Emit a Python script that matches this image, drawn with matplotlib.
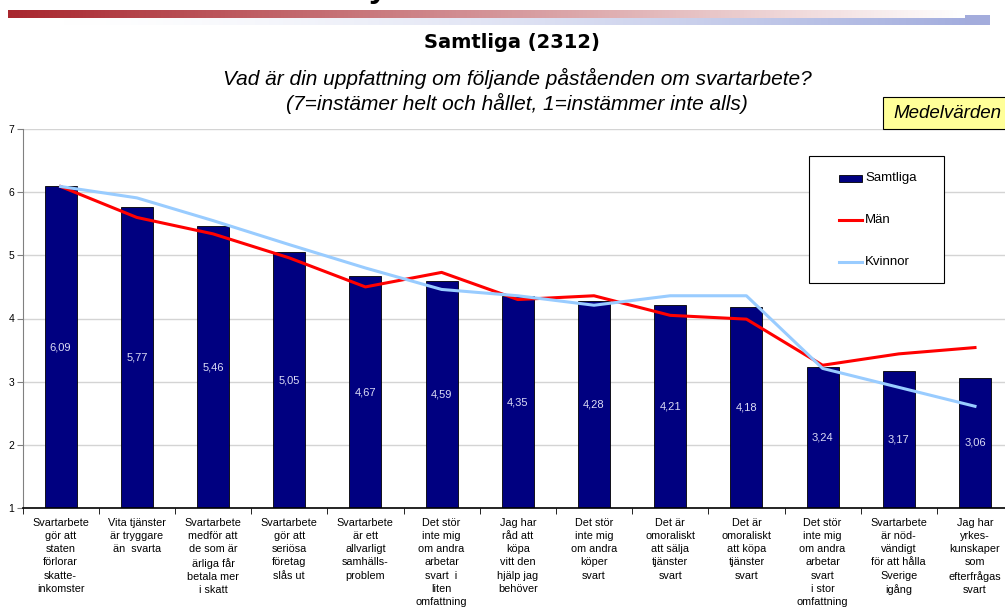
import matplotlib
matplotlib.use('Agg')
import matplotlib.pyplot as plt
from matplotlib.patches import Rectangle
from matplotlib.lines import Line2D
import numpy as np

plt.rcParams['font.family'] = ['Liberation Sans', 'DejaVu Sans']

# data
categories = [
  'Svartarbete\ngör att\nstaten\nförlorar\nskatte-\ninkomster',
  'Vita tjänster\när tryggare\nän  svarta',
  'Svartarbete\nmedför att\nde som är\närliga får\nbetala mer\ni skatt',
  'Svartarbete\ngör att\nseriösa\nföretag\nslås ut',
  'Svartarbete\när ett\nallvarligt\nsamhälls-\nproblem',
  'Det stör\ninte mig\nom andra\narbetar\nsvart  i\nliten\nomfattning',
  'Jag har\nråd att\nköpa\nvitt den\nhjälp jag\nbehöver',
  'Det stör\ninte mig\nom andra\nköper\nsvart',
  'Det är\nomoraliskt\natt sälja\ntjänster\nsvart',
  'Det är\nomoraliskt\natt köpa\ntjänster\nsvart',
  'Det stör\ninte mig\nom andra\narbetar\nsvart\ni stor\nomfattning',
  'Svartarbete\när nöd-\nvändigt\nför att hålla\nSverige\nigång',
  'Jag har\nyrkes-\nkunskaper\nsom\nefterfrågas\nsvart',
]
samtliga = [6.09, 5.77, 5.46, 5.05, 4.67, 4.59, 4.35, 4.28, 4.21, 4.18, 3.24, 3.17, 3.06]
man      = [6.09, 5.60, 5.34, 4.96, 4.50, 4.73, 4.30, 4.36, 4.05, 3.99, 3.26, 3.44, 3.54]
kvinnor  = [6.09, 5.91, 5.55, 5.17, 4.80, 4.46, 4.36, 4.21, 4.36, 4.36, 3.21, 2.91, 2.61]
series_names = ['Samtliga', 'Män', 'Kvinnor']
yticks   = [1, 2, 3, 4, 5, 6, 7]

W, H = 1005, 615
fig = plt.figure(figsize=(W/100, H/100), dpi=100)
tf = fig.transFigure

# header decoration: red gradient bar + pale blue strip
g = np.linspace(0, 1, 256)
red_start = np.array([0.66, 0.15, 0.18])
red_img = (red_start[None, :] * (1 - g[:, None]) + g[:, None])[None, :, :]
ax_r = fig.add_axes([8/W, 1 - 18/H, 955/W, 8/H])
ax_r.imshow(red_img, aspect='auto')
ax_r.axis('off')
blue_end = np.array([0.64, 0.68, 0.87])
blue_img = (np.ones(3)[None, :] * (1 - g[:, None] ** 1.5) + blue_end[None, :] * g[:, None] ** 1.5)[None, :, :]
ax_b = fig.add_axes([60/W, 1 - 25/H, 905/W, 7/H])
ax_b.imshow(blue_img, aspect='auto')
ax_b.axis('off')
fig.patches.append(Rectangle((965/W, 1 - 25/H), 25/W, 10/H, transform=tf,
                             facecolor='#a3acdc', edgecolor='none'))
# descender of the cut-off slide title
fig.text(378/W, 1 + 3/H, 'y', fontsize=24, fontweight='bold', ha='center', va='baseline')

fig.text(512/W, 1 - 43/H, 'Samtliga (2312)', fontsize=14, fontweight='bold',
         family='DejaVu Sans', ha='center', va='center')
fig.text(517/W, 1 - 91/H,
         'Vad är din uppfattning om följande påståenden om svartarbete?\n'
         '(7=instämer helt och hållet, 1=instämmer inte alls)',
         fontsize=15, style='italic', ha='center', va='center', linespacing=1.2)
fig.patches.append(Rectangle((883/W, 1 - 129/H), 140/W, 32/H, transform=tf,
                             facecolor='#ffff99', edgecolor='black', lw=0.8))
fig.text(947/W, 1 - 114/H, 'Medelvärden', fontsize=13.5, style='italic',
         ha='center', va='center')

ax = fig.add_axes([22.5/W, 107/H, 13*76.2/W, 379/H])
x = np.arange(len(categories))
ax.bar(x, samtliga, width=0.42, color='#000080', edgecolor='black',
       linewidth=0.6, zorder=2)
ax.plot(x, man, color='#ff0000', lw=2.2, zorder=3)
ax.plot(x, kvinnor, color='#99ccff', lw=2.2, zorder=3)

for xi, v in zip(x, samtliga):
  ax.text(xi, (1 + v) / 2, f'{v:.2f}'.replace('.', ','), color='#dcdcf5', fontsize=8,
          ha='center', va='center', zorder=4)

ax.set_ylim(1, 7)
ax.set_xlim(-0.5, len(categories) - 0.5)
ax.set_yticks(yticks)
ax.yaxis.grid(True, color='#d4d4d4', lw=1)
ax.set_axisbelow(True)
ax.tick_params(axis='y', labelsize=7.5, length=4, color='#808080', pad=2)
ax.set_xticks(x)
ax.set_xticklabels(categories, fontsize=7.8, linespacing=1.4)
ax.tick_params(axis='x', length=0, pad=7)
ax.set_xticks(np.arange(len(categories) + 1) - 0.5, minor=True)
ax.tick_params(axis='x', which='minor', length=4, color='black')
for s in ['top', 'right']:
  ax.spines[s].set_visible(False)
ax.spines['left'].set_color('#808080')
ax.spines['bottom'].set_color('black')
ax.spines['bottom'].set_linewidth(1.2)

# legend box drawn in figure pixels to match the reference layout
fig.patches.append(Rectangle((809/W, 1 - 283/H), 135/W, 127/H, transform=tf,
                             facecolor='white', edgecolor='black', lw=0.8, zorder=5))
leg_y = [178, 220, 262]
fig.patches.append(Rectangle((839/W, 1 - 181.5/H), 23/W, 7/H, transform=tf,
                             facecolor='#000080', edgecolor='black', lw=0.6, zorder=6))
fig.lines.append(Line2D([839/W, 862/W], [1 - leg_y[1]/H] * 2, transform=tf,
                        color='#ff0000', lw=2.2, zorder=6))
fig.lines.append(Line2D([839/W, 862/W], [1 - leg_y[2]/H] * 2, transform=tf,
                        color='#99ccff', lw=2.2, zorder=6))
for name, yy in zip(series_names, leg_y):
  fig.text(865/W, 1 - yy/H, name, fontsize=9.5, ha='left', va='center', zorder=7)

fig.savefig('out.png', dpi=100)
